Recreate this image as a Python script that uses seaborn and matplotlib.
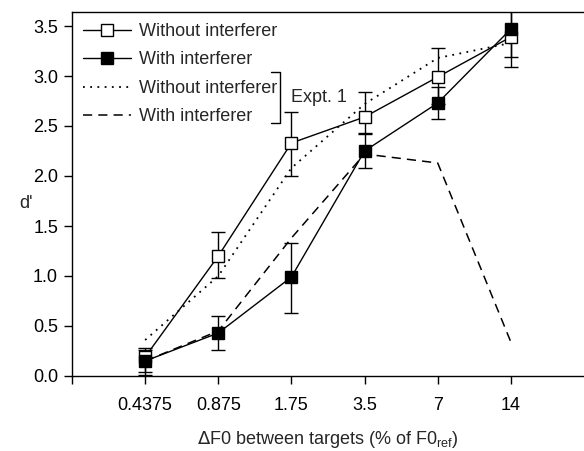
import matplotlib
matplotlib.use("Agg")
import matplotlib.pyplot as plt
import seaborn as sns
import pandas as pd
import numpy as np
from matplotlib.lines import Line2D

sns.set_style("ticks")
plt.rcParams['font.family'] = ['Liberation Sans', 'DejaVu Sans']

# ---- data ----
f0_labels = ["0.4375", "0.875", "1.75", "3.5", "7", "14"]
without_mean = [0.19, 1.20, 2.33, 2.59, 2.99, 3.39]
without_lo = [0.04, 0.98, 2.00, 2.43, 2.72, 3.09]
without_hi = [0.28, 1.44, 2.64, 2.84, 3.28, 3.69]
with_mean = [0.15, 0.43, 0.99, 2.25, 2.73, 3.47]
with_lo = [0.01, 0.26, 0.63, 2.08, 2.57, 3.19]
with_hi = [0.26, 0.60, 1.33, 2.42, 2.89, 3.68]
expt1_without = [0.36, 1.00, 2.08, 2.72, 3.18, 3.33]
expt1_with = [0.15, 0.45, 1.38, 2.22, 2.13, 0.34]

x = np.arange(len(f0_labels))
df = pd.DataFrame({
    "x": np.concatenate([x, x, x, x]),
    "d": without_mean + with_mean + expt1_without + expt1_with,
    "series": (["wo"] * 6 + ["w"] * 6 + ["e1wo"] * 6 + ["e1w"] * 6),
})

FS = 13.0
MS = 9.3

fig = plt.figure(figsize=(5.84, 4.51), dpi=100)
ax = fig.add_axes([72 / 584, 75 / 451, 512 / 584, 364 / 451])

# Expt 1 lines
sns.lineplot(data=df[df.series == "e1wo"], x="x", y="d", ax=ax, color="black",
             lw=1.3, legend=False)
ax.lines[-1].set_linestyle((0, (1, 3)))
sns.lineplot(data=df[df.series == "e1w"], x="x", y="d", ax=ax, color="black",
             lw=1.1, legend=False)
ax.lines[-1].set_linestyle((0, (6, 4)))

# Expt 2 error bars
ax.errorbar(x, without_mean,
            yerr=[np.array(without_mean) - np.array(without_lo), np.array(without_hi) - np.array(without_mean)],
            fmt="none", ecolor="black", elinewidth=1.0, capsize=5, capthick=1.0, zorder=3)
ax.errorbar(x, with_mean,
            yerr=[np.array(with_mean) - np.array(with_lo), np.array(with_hi) - np.array(with_mean)],
            fmt="none", ecolor="black", elinewidth=1.0, capsize=5, capthick=1.0, zorder=3)
sns.lineplot(data=df[df.series == "wo"], x="x", y="d", ax=ax, color="black", lw=1.0,
             marker="s", markersize=MS, markerfacecolor="white", markeredgecolor="black",
             markeredgewidth=1.0, legend=False, zorder=4)
sns.lineplot(data=df[df.series == "w"], x="x", y="d", ax=ax, color="black", lw=1.0,
             marker="s", markersize=MS, markerfacecolor="black", markeredgecolor="black",
             markeredgewidth=1.0, legend=False, zorder=5)

ax.set_xlim(-1, 6)
ax.set_ylim(0, 3.64)
ax.set_xticks(np.arange(-1, 6))
ax.set_xticklabels([""] + f0_labels)
ax.set_yticks(np.arange(0, 3.51, 0.5))
ax.set_yticklabels([f"{v:.1f}" for v in np.arange(0, 3.51, 0.5)])
ax.tick_params(axis="both", direction="out", length=6, width=1.0, labelsize=FS, colors="black")
ax.tick_params(axis="x", pad=9)
ax.tick_params(axis="y", pad=4)
for s in ["left", "bottom", "top"]:
    ax.spines[s].set_visible(True)
    ax.spines[s].set_linewidth(1.0)
    ax.spines[s].set_color("black")
ax.spines["right"].set_visible(False)

ax.set_xlabel(r"$\Delta$F0 between targets (% of F0$_\mathregular{ref}$)", fontsize=FS, labelpad=11)
ax.set_ylabel("d'", fontsize=FS, rotation=0)
ax.yaxis.set_label_coords(-0.09, 0.45)

handles = [
    Line2D([], [], color="black", lw=1.0, marker="s", markersize=MS,
           markerfacecolor="white", markeredgecolor="black"),
    Line2D([], [], color="black", lw=1.0, marker="s", markersize=MS,
           markerfacecolor="black", markeredgecolor="black"),
    Line2D([], [], color="black", lw=1.3, linestyle=(0, (1, 3))),
    Line2D([], [], color="black", lw=1.1, linestyle=(0, (6, 4))),
]
labels = ["Without interferer", "With interferer", "Without interferer", "With interferer"]
leg = ax.legend(handles, labels, loc="upper left", bbox_to_anchor=(0.0, 1.0), frameon=False,
                fontsize=FS, handlelength=2.65, handletextpad=0.45, labelspacing=0.64,
                borderaxespad=0.2, borderpad=0.4)

# bracket for Expt. 1
bx0, bx1 = 271 / 584, 280 / 584
by0, by1 = 1 - 72 / 451, 1 - 123 / 451
fig.add_artist(Line2D([bx0, bx1, bx1, bx0], [by0, by0, by1, by1], color="black", lw=1.0,
                      transform=fig.transFigure))
fig.text(291 / 584, 1 - 97 / 451, "Expt. 1", fontsize=FS, va="center", ha="left")

fig.savefig("out.png", dpi=100, facecolor="white")
